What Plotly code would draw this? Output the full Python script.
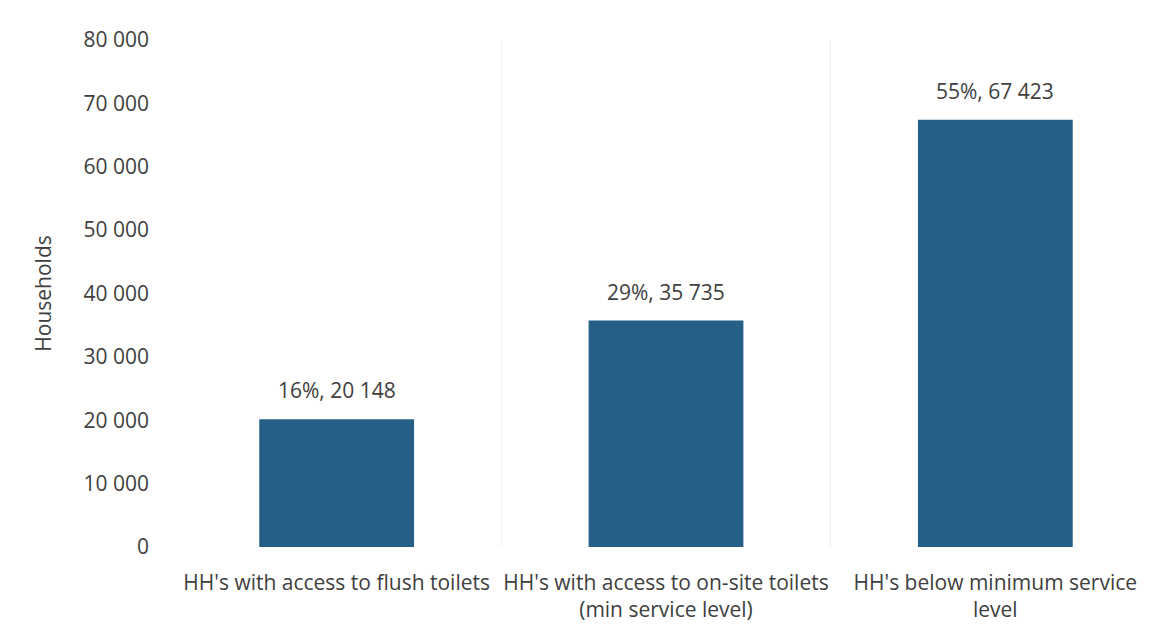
import plotly.graph_objects as go

categories = [
    "HH's with access to flush toilets",
    "HH's with access to on-site toilets<br>(min service level)",
    "HH's below minimum service<br>level",
]
households = [20148, 35735, 67423]
percentages = [16, 29, 55]
y_ticks = [0, 10000, 20000, 30000, 40000, 50000, 60000, 70000, 80000]

def fmt(v):
    return f"{v:,}".replace(",", " ")

labels = [f"{p}%, {fmt(v)}" for p, v in zip(percentages, households)]
tick_text = [fmt(t) for t in y_ticks]

FONT = "Open Sans"
TXT = "#404040"
FS = 21
fig = go.Figure(
    go.Bar(
        x=categories,
        y=households,
        marker=dict(color="#255E86", line=dict(width=0)),
        width=0.47,
        hoverinfo="skip",
    )
)
for c, v, t in zip(categories, households, labels):
    fig.add_annotation(
        x=c, y=v, text=t, showarrow=False, yanchor="bottom", yshift=13,
        font=dict(size=FS, color=TXT, family=FONT),
    )
fig.update_layout(
    width=1171,
    height=633,
    margin=dict(l=172, r=11, t=40, b=86),
    paper_bgcolor="white",
    plot_bgcolor="white",
    font=dict(family=FONT, size=FS, color=TXT),
    showlegend=False,
    xaxis=dict(
        tickson="boundaries",
        showgrid=True,
        gridcolor="#f0f0f0",
        gridwidth=1,
        ticks="",
        showline=False,
        tickangle=0,
        automargin=False,
        ticklabelstandoff=21,
        tickfont=dict(size=FS, color=TXT),
    ),
    yaxis=dict(
        range=[0, 80000],
        tickvals=y_ticks,
        ticktext=tick_text,
        showgrid=False,
        zeroline=False,
        showline=False,
        ticks="",
        automargin=False,
        ticklabelstandoff=22,
        title=dict(text="Households", font=dict(size=FS, color=TXT), standoff=26),
        tickfont=dict(size=FS, color=TXT),
    ),
)
fig.write_html("out.html")
